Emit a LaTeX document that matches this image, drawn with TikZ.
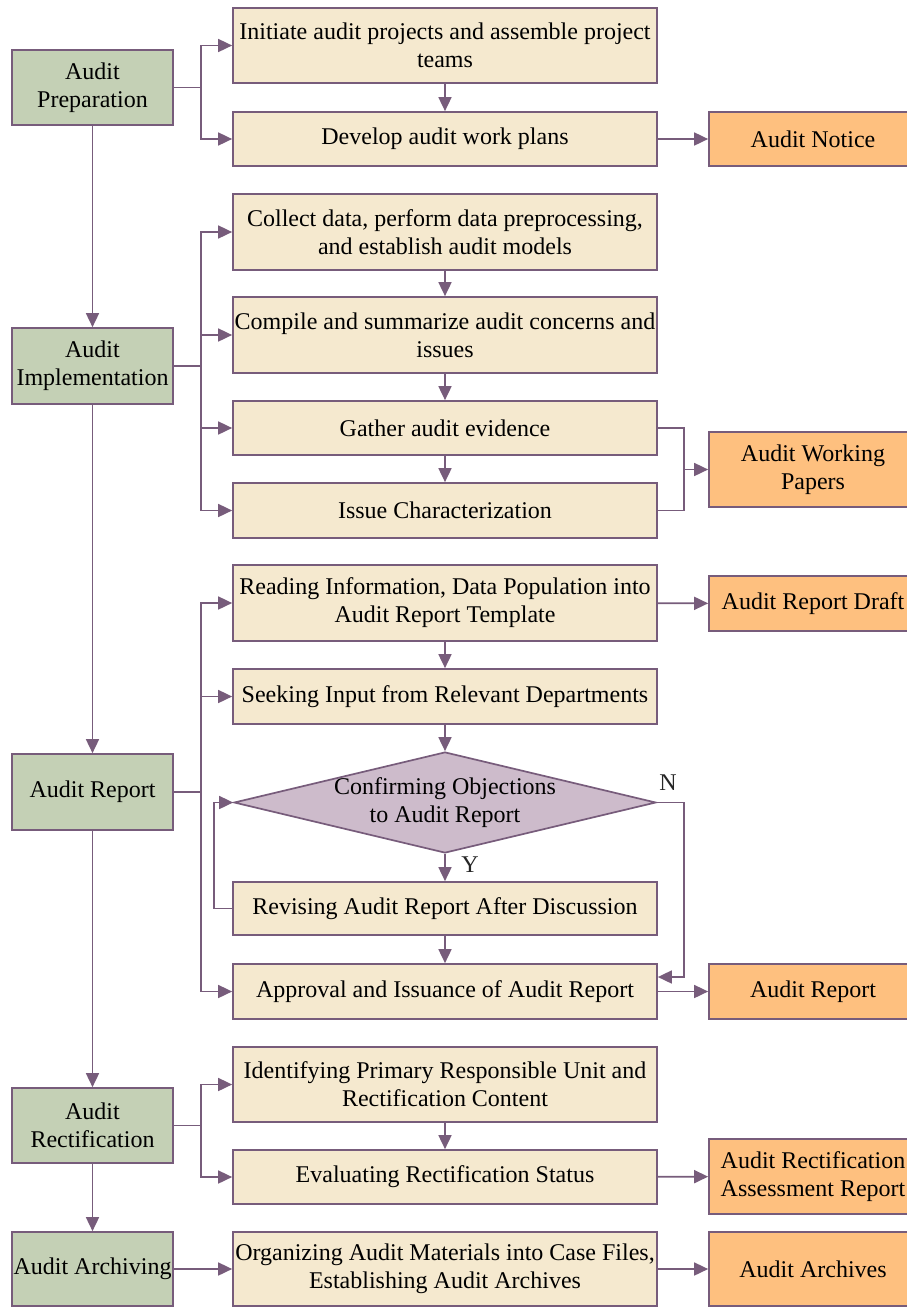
\documentclass[tikz,border=0pt]{standalone}
\usepackage{fontspec}
\setmainfont{Liberation Serif}
\usetikzlibrary{arrows.meta,shapes.geometric,calc}
\definecolor{lnc}{HTML}{775C7B}
\definecolor{grn}{HTML}{C4D0B5}
\definecolor{bge}{HTML}{F5E9CF}
\definecolor{org}{HTML}{FEC07F}
\definecolor{dmc}{HTML}{CDBBCB}
\tikzset{
  base/.style={draw=lnc, line width=1.7pt, inner sep=0pt, align=center,
    font=\fontsize{24}{28}\selectfont, text=black},
  phase/.style={base, fill=grn, minimum width=161pt},
  stepbx/.style={base, fill=bge, minimum width=424pt},
  outbx/.style={base, fill=org, minimum width=208pt},
  conn/.style={draw=lnc, line width=1.7pt},
  arr/.style={conn, -{Triangle[length=14pt,width=13pt]}},
  lbl/.style={font=\fontsize{24}{28}\selectfont, text=black!85, inner sep=0pt}
}
\begin{document}
\begin{tikzpicture}[x=1pt,y=-1pt]
\useasboundingbox (0,0) rectangle (907,1307);
\clip (0,0) rectangle (907,1307);
% phases
\node[phase, minimum height=75pt] (P)  at (92.5,87.5) {Audit\\Preparation};
\node[phase, minimum height=76pt] (I)  at (92.5,366) {Audit\\Implementation};
\node[phase, minimum height=76pt] (R)  at (92.5,792) {Audit Report};
\node[phase, minimum height=75pt] (Rc) at (92.5,1125.5) {Audit\\Rectification};
\node[phase, minimum height=74pt] (Ar) at (92.5,1269) {Audit Archiving};
% steps
\node[stepbx, minimum height=75pt] (b1) at (445,45.5) {Initiate audit projects and assemble project\\teams};
\node[stepbx, minimum height=54pt] (b2) at (445,139) {Develop audit work plans};
\node[stepbx, minimum height=76pt] (b3) at (445,232) {Collect data, perform data preprocessing,\\and establish audit models};
\node[stepbx, minimum height=76pt] (b4) at (445,335) {Compile and summarize audit concerns and\\issues};
\node[stepbx, minimum height=54pt] (b5) at (445,428) {Gather audit evidence};
\node[stepbx, minimum height=55pt] (b6) at (445,510.5) {Issue Characterization};
\node[stepbx, minimum height=76pt] (b7) at (445,603) {Reading Information, Data Population into\\Audit Report Template};
\node[stepbx, minimum height=55pt] (b8) at (445,696.5) {Seeking Input from Relevant Departments};
\node[diamond, draw=lnc, line width=1.7pt, fill=dmc, inner sep=0pt, minimum width=422pt, minimum height=101pt] (dm) at (445,802.5) {};
\node[lbl, align=center, text=black] (dmt) at (dm.center) {Confirming Objections\\to Audit Report};
\node[stepbx, minimum height=53pt] (b9) at (445,908.5) {Revising Audit Report After Discussion};
\node[stepbx, minimum height=55pt] (b10) at (445,991.5) {Approval and Issuance of Audit Report};
\node[stepbx, minimum height=75pt] (b11) at (445,1084.5) {Identifying Primary Responsible Unit and\\Rectification Content};
\node[stepbx, minimum height=54pt] (b12) at (445,1177) {Evaluating Rectification Status};
\node[stepbx, minimum height=74pt] (b13) at (445,1269) {Organizing Audit Materials into Case Files,\\Establishing Audit Archives};
% outputs
\node[outbx, minimum height=54pt] (o1) at (813,139) {Audit Notice};
\node[outbx, minimum height=75pt] (o2) at (813,469.5) {Audit Working\\Papers};
\node[outbx, minimum height=55pt] (o3) at (813,603.5) {Audit Report Draft};
\node[outbx, minimum height=55pt] (o4) at (813,991.5) {Audit Report};
\node[outbx, minimum height=75pt] (o5) at (813,1176.5) {Audit Rectification\\Assessment Report};
\node[outbx, minimum height=74pt] (o6) at (813,1269) {Audit Archives};
% phase chain
\draw[arr] (P) -- (I);
\draw[arr] (I) -- (R);
\draw[arr] (R) -- (Rc);
\draw[arr] (Rc) -- (Ar);
% branches
\foreach \t in {b1,b2} \draw[arr] (P.east) -- ++(27,0) |- (\t.west);
\foreach \t in {b3,b4,b5,b6} \draw[arr] (I.east) -- ++(27,0) |- (\t.west);
\foreach \t in {b7,b8,b10} \draw[arr] (R.east) -- ++(27,0) |- (\t.west);
\foreach \t in {b11,b12} \draw[arr] (Rc.east) -- ++(27,0) |- (\t.west);
\draw[arr] (Ar) -- (b13);
% step chain
\draw[arr] (b1) -- (b2);
\draw[arr] (b3) -- (b4);
\draw[arr] (b4) -- (b5);
\draw[arr] (b5) -- (b6);
\draw[arr] (b7) -- (b8);
\draw[arr] (b8) -- (dm.north);
\draw[arr] (dm.south) -- (b9);
\node[lbl] (ylab) at (470,865) {Y};
\draw[arr] (b9) -- (b10);
\draw[arr] (b11) -- (b12);
% loop and N
\draw[arr] (b9.west) -- ++(-18,0) |- (dm.west);
\coordinate (nin) at ($(b10.east)+(0,-14.5)$);
\draw[arr] (dm.east) -- ++(27,0) |- (nin);
\node[lbl] (nlab) at (668,783) {N};
% outputs
\draw[arr] (b2) -- (o1);
\draw[conn] (b5.east) -- ++(26,0) |- (b6.east);
\draw[arr] ($(b5.east)+(26,0)$) |- (o2.west);
\draw[arr] (b7) -- (o3);
\draw[arr] (b10) -- (o4);
\draw[arr] (b12) -- (o5);
\draw[arr] (b13) -- (o6);
\end{tikzpicture}
\end{document}
